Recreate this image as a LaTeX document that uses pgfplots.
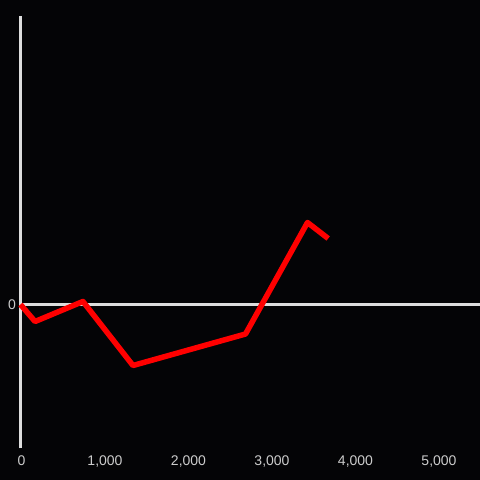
\documentclass[border=0pt]{standalone}
\usepackage{pgfplots}
\pgfplotsset{compat=1.18}
\usepackage{fontspec}
\setmainfont{Liberation Sans}
\definecolor{bg}{HTML}{040406}
\definecolor{axc}{HTML}{DDDDDD}
\definecolor{tickc}{HTML}{CCCCCC}
\begin{document}
\begin{tikzpicture}[x=1pt,y=1pt]
\useasboundingbox (0,0) rectangle (480,480);
\fill[bg] (0,0) rectangle (480,480);
\begin{axis}[
  at={(20.5pt,31.5pt)}, anchor=south west,
  scale only axis, width=459.5pt, height=432.5pt,
  xmin=0, xmax=5503, ymin=-144, ymax=288.5,
  axis x line=bottom, axis y line=left,
  x axis line style={draw=none},
  y axis line style={draw=axc, line width=2.6pt, -},
  xtick={0,1000,2000,3000,4000,5000},
  ytick={0},
  major tick length=0pt,
  ymajorgrids, grid style={draw=axc, line width=2.6pt},
  /pgf/number format/assume math mode=true,
  /pgf/number format/1000 sep={,},
  tick label style={font=\fontsize{14}{16}\selectfont, text=tickc},
  xticklabel style={yshift=-4pt, xshift=1pt},
  yticklabel style={xshift=-1pt},
  clip=false,
]
\addplot[color=red, line width=5.5pt, line join=round, line cap=butt] coordinates {
  (0,0) (174,-17) (748,3) (1347,-61) (2695,-29.5) (3437,82) (3685,66)
};
\end{axis}
\end{tikzpicture}
\end{document}
